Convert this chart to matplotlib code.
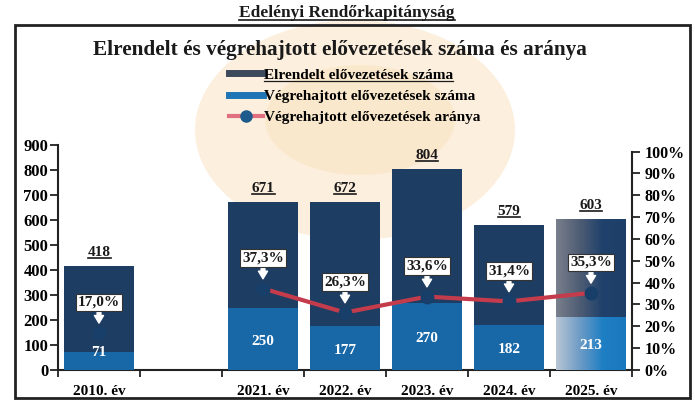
import numpy as np
import matplotlib
matplotlib.use('Agg')
import matplotlib.pyplot as plt
from matplotlib.patches import Rectangle, Ellipse
from matplotlib.lines import Line2D
from matplotlib.colors import LinearSegmentedColormap

# adatok
categories = ['2010. év', '', '2021. év', '2022. év', '2023. év', '2024. év', '2025. év']
ordered = [418, np.nan, 671, 672, 804, 579, 603]
executed = [71, np.nan, 250, 177, 270, 182, 213]
ratio = [17.0, np.nan, 37.3, 26.3, 33.6, 31.4, 35.3]

legend_labels = ['Elrendelt elővezetések száma',
                 'Végrehajtott elővezetések száma',
                 'Végrehajtott elővezetések aránya']

plt.rcParams['font.family'] = ['Liberation Serif', 'DejaVu Serif']
plt.rcParams['font.weight'] = 'bold'

W, H = 695, 404
fig = plt.figure(figsize=(W / 100, H / 100), dpi=100)
fig.patch.set_facecolor('white')

# halvány háttér embléma
fig.patches.append(Ellipse((355 / W, 1 - 130 / H), 320 / W, 220 / H, transform=fig.transFigure,
                           facecolor='#fcecd6', edgecolor='none', alpha=0.8, zorder=-2))
fig.patches.append(Ellipse((360 / W, 1 - 120 / H), 190 / W, 110 / H, transform=fig.transFigure,
                           facecolor='#fae2bd', edgecolor='none', alpha=0.5, zorder=-1))
# keret
fig.patches.append(Rectangle((15 / W, 6 / H), 675 / W, 373 / H, transform=fig.transFigure,
                             fill=False, edgecolor='#222222', linewidth=2, zorder=5))

ax = fig.add_axes([58 / W, 34 / H, (632 - 58) / W, 225 / H])
ax.set_zorder(1)
ax.set_facecolor('none')
x = np.arange(len(categories))
valid = [i for i in x if not np.isnan(ordered[i])]
width = 0.85

dark = '#1d3d62'
blue = '#1868a8'
top_bars = ax.bar([x[i] for i in valid], [ordered[i] for i in valid], width, color=dark, zorder=2)
low_bars = ax.bar([x[i] for i in valid], [executed[i] for i in valid], width, color=blue, zorder=3)

# 2025-ös oszlop színátmenettel
grad = np.linspace(0, 1, 256).reshape(1, -1)
cm_top = LinearSegmentedColormap.from_list('t', ['#7a808c', '#4f5d74', '#1f416b', '#1d3f68'])
cm_low = LinearSegmentedColormap.from_list('l', ['#b9c6d4', '#6f9cc6', '#1f7fc4', '#1a78be'])
for bars, cm in ((top_bars, cm_top), (low_bars, cm_low)):
    p = bars.patches[-1]
    im = ax.imshow(grad, cmap=cm, aspect='auto', zorder=p.get_zorder() + 0.1,
                   extent=[p.get_x(), p.get_x() + p.get_width(), p.get_y(), p.get_y() + p.get_height()])
    im.set_clip_path(p)

ax.set_xlim(-0.5, len(categories) - 0.5)
ax.set_ylim(0, 900)
ax.set_yticks(range(0, 901, 100))
ax.set_xticks(x)
ax.set_xticklabels(categories, fontsize=11, fontweight='bold')
ax.set_xticks(np.arange(-0.5, len(categories), 1), minor=True)
ax.tick_params(axis='x', which='major', length=0, pad=11)
ax.tick_params(axis='x', which='minor', length=5, width=1.3, direction='out', color='#222222')
ax.tick_params(axis='y', length=6, width=1.3, pad=1, labelsize=12, color='#222222')
for lab in ax.get_yticklabels():
    lab.set_fontweight('bold')
for s in ('top', 'right'):
    ax.spines[s].set_visible(False)
for s in ('left', 'bottom'):
    ax.spines[s].set_linewidth(1.5)
    ax.spines[s].set_color('#222222')

# érték feliratok
total_texts = []
for i in valid:
    t = ax.annotate(f'{ordered[i]}', (x[i], ordered[i]), xytext=(0, 5), textcoords='offset points',
                    ha='center', va='bottom', fontsize=11, fontweight='bold', color='#1a1a1a', zorder=6)
    total_texts.append(t)
    ax.text(x[i], max(executed[i] / 2 - 10, 72), f'{executed[i]}', ha='center', va='center',
            fontsize=11, fontweight='bold', color='white', zorder=6)

# arány vonal
ax2 = ax.twinx()
ax2.set_zorder(2)
ax2.set_ylim(0, 1.03)
ax2.set_yticks(np.arange(0, 1.01, 0.1))
ax2.set_yticklabels([f'{int(round(v * 100))}%' for v in np.arange(0, 1.01, 0.1)], fontsize=11.5,
                    fontweight='bold')
ax2.tick_params(axis='y', length=6, width=1.3, pad=3, color='#222222')
for s in ('top', 'left', 'bottom'):
    ax2.spines[s].set_visible(False)
ax2.spines['right'].set_bounds(0, 1)
ax2.spines['right'].set_linewidth(1.5)
ax2.spines['right'].set_color('#222222')

r = np.array(ratio) / 100
ax2.plot(x, r, color='#c43c4c', linewidth=3, zorder=4)
ax2.plot(x, r, linestyle='none', marker='o', markersize=9, color='#173f6a', zorder=5)
for i in valid:
    ax2.annotate(f'{ratio[i]:.1f}%'.replace('.', ','), (x[i], r[i]), xytext=(0, 22),
                 textcoords='offset points', ha='center', va='center', fontsize=11,
                 fontweight='bold', color='#1a1a1a', zorder=7,
                 bbox=dict(boxstyle='square,pad=0.15', fc='white', ec='#333333', lw=0.8),
                 arrowprops=dict(arrowstyle='simple,head_width=0.6,head_length=0.5,tail_width=0.25',
                                 fc='white', ec='white', shrinkA=0, shrinkB=7))

# címek
t_main = fig.text(347 / W, 1 - 13 / H, 'Edelényi Rendőrkapitányság', ha='center', va='center',
                  fontsize=12.5, fontweight='bold', color='#1a1a1a')
fig.text(340 / W, 1 - 50 / H, 'Elrendelt és végrehajtott elővezetések száma és aránya',
         ha='center', va='center', fontsize=15.3, fontweight='bold', color='#1a1a1a')

handles = [Line2D([], [], color='#3d4a5c', linewidth=5),
           Line2D([], [], color='#1e74b4', linewidth=5),
           Line2D([], [], color='#e07080', linewidth=3, marker='o', markersize=8,
                  markerfacecolor='#1e5a8c', markeredgecolor='#1e5a8c')]
leg = fig.legend(handles, legend_labels, loc='upper left', bbox_to_anchor=(229 / W, 1 - 68 / H),
                 frameon=False, fontsize=11, handlelength=2.2, handletextpad=0.1,
                 labelspacing=0.5, borderpad=0, borderaxespad=0)
leg.set_zorder(6)

# aláhúzások
fig.canvas.draw()
renderer = fig.canvas.get_renderer()


def underline(t, lw=1.2):
    bb = t.get_window_extent(renderer)
    y = bb.y0 + 1
    fig.add_artist(Line2D([bb.x0 / W, bb.x1 / W], [y / H, y / H], transform=fig.transFigure,
                          color='#1a1a1a', linewidth=lw, zorder=8))


underline(t_main)
for t in total_texts:
    underline(t)
underline(leg.get_texts()[0], lw=0.9)

fig.savefig('out.png', dpi=100)
